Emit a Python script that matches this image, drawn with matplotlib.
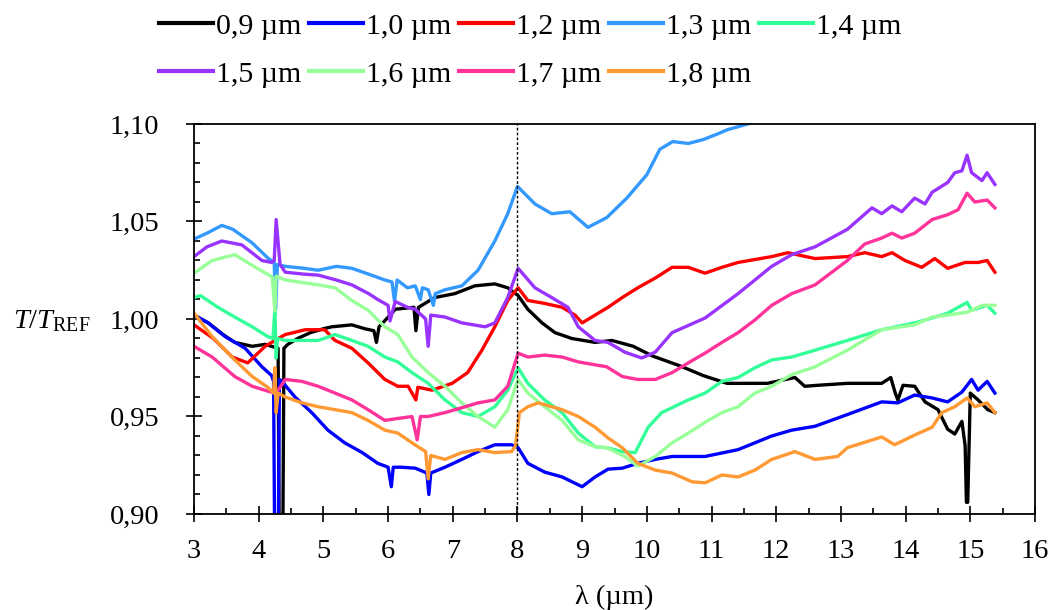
import numpy as np
import matplotlib.pyplot as plt
from matplotlib.ticker import MultipleLocator, FuncFormatter

plt.rcParams['font.family'] = ['Liberation Serif', 'DejaVu Serif']
plt.rcParams['mathtext.fontset'] = 'custom'
plt.rcParams['mathtext.rm'] = 'Liberation Serif'
plt.rcParams['mathtext.it'] = 'Liberation Serif:italic'

labels = ['0,9 µm', '1,0 µm', '1,2 µm', '1,3 µm', '1,4 µm',
          '1,5 µm', '1,6 µm', '1,7 µm', '1,8 µm']
colors = ['#000000', '#0000FF', '#FF0000', '#3399FF', '#33FF99',
          '#9933FF', '#99FF99', '#FF3399', '#FF9933']

# (wavelength in um, T/T_REF) for each film
s09 = [(3.0, 1.002), (3.22, 0.998), (3.45, 0.992), (3.63, 0.988), (3.9, 0.986), (4.1, 0.987),
       (4.3, 0.985), (4.32, 0.87), (4.37, 0.87), (4.39, 0.985), (4.45, 0.987), (4.6, 0.990),
       (4.8, 0.993), (5.0, 0.995), (5.13, 0.996), (5.44, 0.997), (5.64, 0.995), (5.78, 0.994),
       (5.82, 0.988), (5.86, 0.996), (6.06, 1.003), (6.11, 1.005), (6.4, 1.006), (6.43, 0.994),
       (6.47, 1.006), (6.72, 1.011), (7.03, 1.013), (7.34, 1.017), (7.65, 1.018), (7.85, 1.016),
       (8.01, 1.012), (8.16, 1.005), (8.38, 0.998), (8.58, 0.993), (8.84, 0.990), (9.2, 0.988),
       (9.46, 0.989), (9.79, 0.986), (10.09, 0.981), (10.51, 0.976), (10.87, 0.971), (11.24, 0.967),
       (11.86, 0.967), (12.29, 0.970), (12.44, 0.9655), (12.64, 0.966), (13.1, 0.967), (13.63, 0.967),
       (13.77, 0.970), (13.84, 0.962), (13.88, 0.9585), (13.96, 0.966), (14.14, 0.9655), (14.3, 0.9575),
       (14.5, 0.9535), (14.65, 0.9435), (14.76, 0.941), (14.87, 0.9475), (14.92, 0.935), (14.94, 0.906),
       (14.96, 0.906), (15.0, 0.962), (15.12, 0.9585), (15.27, 0.9535), (15.38, 0.952)]
s10 = [(3.0, 1.002), (3.22, 0.998), (3.48, 0.991), (3.79, 0.985), (4.05, 0.9755), (4.2, 0.971),
       (4.23, 0.968), (4.25, 0.87), (4.3, 0.87), (4.32, 0.969), (4.36, 0.968), (4.56, 0.960),
       (4.82, 0.952), (5.07, 0.943), (5.33, 0.9365), (5.6, 0.9315), (5.84, 0.926), (6.0, 0.924),
       (6.05, 0.914), (6.08, 0.924), (6.2, 0.924), (6.42, 0.9235), (6.6, 0.921), (6.63, 0.910),
       (6.66, 0.921), (6.88, 0.924), (7.14, 0.928), (7.39, 0.932), (7.65, 0.9355), (7.91, 0.9355),
       (8.01, 0.934), (8.16, 0.926), (8.42, 0.9215), (8.69, 0.919), (9.0, 0.914), (9.2, 0.919),
       (9.4, 0.923), (9.62, 0.9235), (9.86, 0.926), (10.13, 0.928), (10.39, 0.9295), (10.9, 0.9295),
       (11.41, 0.933), (11.93, 0.940), (12.24, 0.943), (12.6, 0.945), (13.1, 0.951), (13.63, 0.9575),
       (13.88, 0.957), (14.14, 0.961), (14.41, 0.9595), (14.65, 0.9575), (14.87, 0.9625), (15.02, 0.969),
       (15.12, 0.9635), (15.26, 0.968), (15.38, 0.962)]
s12 = [(3.0, 0.997), (3.3, 0.990), (3.59, 0.9805), (3.83, 0.9775), (4.1, 0.986), (4.3, 0.990),
       (4.41, 0.992), (4.72, 0.9945), (5.02, 0.9945), (5.18, 0.989), (5.44, 0.985), (5.69, 0.9775),
       (5.95, 0.969), (6.15, 0.9655), (6.31, 0.9655), (6.43, 0.9585), (6.46, 0.965), (6.68, 0.9635),
       (6.99, 0.967), (7.23, 0.9725), (7.45, 0.984), (7.65, 0.996), (7.85, 1.0095), (8.01, 1.016),
       (8.16, 1.0095), (8.42, 1.008), (8.69, 1.006), (8.89, 1.002), (9.0, 0.998), (9.2, 1.002),
       (9.4, 1.006), (9.62, 1.011), (9.86, 1.016), (10.13, 1.021), (10.39, 1.0265), (10.64, 1.0265),
       (10.9, 1.0235), (11.16, 1.0265), (11.41, 1.029), (11.93, 1.032), (12.18, 1.034), (12.6, 1.031),
       (13.1, 1.032), (13.37, 1.034), (13.63, 1.032), (13.79, 1.034), (13.99, 1.030), (14.25, 1.0265),
       (14.45, 1.031), (14.65, 1.026), (14.92, 1.029), (15.12, 1.029), (15.26, 1.030), (15.38, 1.024)]
s13 = [(3.0, 1.041), (3.2, 1.044), (3.43, 1.048), (3.6, 1.046), (3.9, 1.039), (4.15, 1.031),
       (4.24, 1.029), (4.26, 1.005), (4.29, 1.028), (4.41, 1.027), (4.7, 1.026), (4.92, 1.025),
       (5.2, 1.027), (5.44, 1.026), (5.7, 1.023), (5.95, 1.020), (6.06, 1.019), (6.1, 1.009),
       (6.14, 1.020), (6.3, 1.016), (6.42, 1.017), (6.5, 1.010), (6.53, 1.016), (6.62, 1.015),
       (6.7, 1.007), (6.73, 1.013), (6.88, 1.015), (7.14, 1.017), (7.39, 1.025), (7.65, 1.040),
       (7.85, 1.054), (8.0, 1.068), (8.27, 1.059), (8.53, 1.054), (8.81, 1.055), (9.09, 1.047),
       (9.38, 1.052), (9.69, 1.062), (10.0, 1.074), (10.2, 1.087), (10.4, 1.091), (10.64, 1.090),
       (10.87, 1.092), (11.1, 1.095), (11.24, 1.097), (11.56, 1.100), (11.75, 1.102)]
s14 = [(3.0, 1.011), (3.1, 1.012), (3.37, 1.006), (3.63, 1.001), (3.9, 0.996), (4.14, 0.991),
       (4.22, 0.990), (4.25, 1.005), (4.27, 0.980), (4.29, 0.990), (4.41, 0.989), (4.67, 0.989),
       (4.92, 0.989), (5.18, 0.992), (5.44, 0.989), (5.69, 0.986), (5.95, 0.9805), (6.15, 0.978),
       (6.37, 0.9725), (6.62, 0.967), (6.88, 0.9585), (7.14, 0.952), (7.39, 0.950), (7.65, 0.955),
       (7.85, 0.9635), (8.01, 0.975), (8.16, 0.967), (8.42, 0.9585), (8.69, 0.952), (8.94, 0.9415),
       (9.2, 0.9345), (9.38, 0.934), (9.62, 0.932), (9.82, 0.9315), (10.02, 0.9445), (10.23, 0.952),
       (10.64, 0.9585), (10.9, 0.962), (11.16, 0.968), (11.41, 0.970), (11.67, 0.975), (11.93, 0.979),
       (12.24, 0.9805), (12.6, 0.984), (13.1, 0.989), (13.63, 0.9945), (14.14, 0.998), (14.41, 1.0005),
       (14.65, 1.003), (14.95, 1.0085), (15.02, 1.0045), (15.26, 1.007), (15.38, 1.003)]
s15 = [(3.0, 1.032), (3.2, 1.037), (3.43, 1.040), (3.74, 1.038), (4.05, 1.030), (4.2, 1.029),
       (4.24, 1.030), (4.27, 1.051), (4.33, 1.028), (4.41, 1.024), (4.7, 1.023), (4.92, 1.0225),
       (5.2, 1.020), (5.44, 1.0175), (5.7, 1.013), (5.84, 1.010), (6.0, 1.007), (6.03, 0.999),
       (6.11, 1.009), (6.3, 1.006), (6.42, 1.005), (6.58, 1.000), (6.62, 0.986), (6.66, 1.002),
       (6.88, 1.001), (7.14, 0.998), (7.5, 0.996), (7.65, 0.998), (7.85, 1.011), (8.01, 1.026),
       (8.27, 1.016), (8.53, 1.011), (8.78, 1.006), (8.94, 0.996), (9.2, 0.989), (9.4, 0.988),
       (9.66, 0.983), (9.92, 0.980), (10.13, 0.983), (10.39, 0.993), (10.9, 1.0005), (11.41, 1.013),
       (11.93, 1.027), (12.24, 1.033), (12.6, 1.037), (13.1, 1.046), (13.48, 1.057), (13.63, 1.054),
       (13.79, 1.058), (13.94, 1.055), (14.14, 1.062), (14.3, 1.059), (14.41, 1.065), (14.65, 1.070),
       (14.76, 1.075), (14.87, 1.076), (14.95, 1.084), (15.02, 1.075), (15.18, 1.071), (15.26, 1.075),
       (15.38, 1.069)]
s16 = [(3.0, 1.0235), (3.28, 1.030), (3.63, 1.033), (3.9, 1.0275), (4.21, 1.0215), (4.25, 1.004),
       (4.27, 1.022), (4.41, 1.020), (4.92, 1.0175), (5.18, 1.016), (5.44, 1.0095), (5.69, 1.0045),
       (5.95, 0.996), (6.15, 0.992), (6.37, 0.9805), (6.62, 0.9725), (6.88, 0.9655), (7.14, 0.957),
       (7.39, 0.950), (7.65, 0.9445), (7.85, 0.9535), (8.01, 0.969), (8.16, 0.962), (8.42, 0.955),
       (8.69, 0.948), (8.94, 0.938), (9.2, 0.9345), (9.38, 0.934), (9.66, 0.9295), (9.86, 0.9245),
       (10.13, 0.9295), (10.39, 0.9365), (10.64, 0.9415), (10.9, 0.947), (11.16, 0.952), (11.41, 0.955),
       (11.67, 0.962), (11.93, 0.9655), (12.24, 0.9715), (12.6, 0.9755), (13.1, 0.984), (13.63, 0.9945),
       (14.14, 0.997), (14.41, 1.001), (14.65, 1.002), (14.95, 1.0035), (15.18, 1.007), (15.38, 1.007)]
s17 = [(3.0, 0.986), (3.28, 0.9805), (3.63, 0.9705), (3.9, 0.9655), (4.14, 0.963), (4.27, 0.962),
       (4.41, 0.969), (4.67, 0.968), (4.92, 0.9655), (5.18, 0.962), (5.44, 0.9585), (5.69, 0.9535),
       (5.95, 0.948), (6.15, 0.949), (6.37, 0.950), (6.45, 0.938), (6.5, 0.950), (6.62, 0.950),
       (6.88, 0.952), (7.14, 0.9545), (7.39, 0.957), (7.65, 0.9585), (7.85, 0.9655), (8.01, 0.9825),
       (8.16, 0.9805), (8.42, 0.9815), (8.69, 0.9805), (8.94, 0.978), (9.2, 0.9765), (9.38, 0.9755),
       (9.62, 0.9705), (9.86, 0.969), (10.13, 0.969), (10.39, 0.9725), (10.64, 0.9775), (10.9, 0.9825),
       (11.16, 0.988), (11.41, 0.993), (11.67, 0.9995), (11.93, 1.007), (12.24, 1.013), (12.6, 1.0175),
       (13.1, 1.030), (13.37, 1.0385), (13.63, 1.0415), (13.79, 1.044), (13.94, 1.0415), (14.14, 1.044),
       (14.41, 1.051), (14.65, 1.0535), (14.81, 1.056), (14.95, 1.0645), (15.07, 1.060), (15.26, 1.061),
       (15.38, 1.057)]
s18 = [(3.0, 1.003), (3.28, 0.991), (3.63, 0.979), (3.9, 0.9705), (4.14, 0.965), (4.23, 0.962),
       (4.25, 0.975), (4.27, 0.952), (4.3, 0.962), (4.41, 0.960), (4.67, 0.957), (4.92, 0.955),
       (5.18, 0.9535), (5.44, 0.952), (5.69, 0.948), (5.95, 0.943), (6.15, 0.9415), (6.37, 0.9365),
       (6.58, 0.932), (6.62, 0.918), (6.66, 0.930), (6.88, 0.928), (7.14, 0.9315), (7.39, 0.933),
       (7.65, 0.9315), (7.91, 0.932), (7.97, 0.935), (8.03, 0.952), (8.16, 0.955), (8.32, 0.957),
       (8.69, 0.9535), (8.94, 0.950), (9.2, 0.9445), (9.4, 0.939), (9.62, 0.934), (9.86, 0.926),
       (10.13, 0.9225), (10.39, 0.921), (10.7, 0.9165), (10.9, 0.916), (11.16, 0.920), (11.41, 0.919),
       (11.67, 0.9225), (11.93, 0.928), (12.29, 0.932), (12.6, 0.928), (12.95, 0.9295), (13.1, 0.934),
       (13.63, 0.9395), (13.83, 0.9355), (14.14, 0.9405), (14.41, 0.9445), (14.56, 0.952), (14.76, 0.955),
       (14.95, 0.9595), (15.07, 0.955), (15.26, 0.957), (15.38, 0.952)]

series = [s09, s10, s12, s13, s14, s15, s16, s17, s18]

fig = plt.figure(figsize=(10.52, 6.10), dpi=100)
ax = fig.add_axes([194 / 1052, 1 - 514 / 610, (1035 - 194) / 1052, (514 - 124) / 610])

lines = []
for pts, c, lab in zip(series, colors, labels):
    x, y = np.array(pts).T
    ln, = ax.plot(x, y, color=c, lw=2.4, label=lab, solid_joinstyle='round')
    lines.append(ln)

ax.axvline(8, color='black', ls=(0, (2, 1.5)), lw=1)

ax.set_xlim(3, 16)
ax.set_ylim(0.90, 1.10)
ax.xaxis.set_major_locator(MultipleLocator(1))
ax.xaxis.set_minor_locator(MultipleLocator(0.5))
ax.yaxis.set_major_locator(MultipleLocator(0.05))
ax.yaxis.set_minor_locator(MultipleLocator(0.01))
ax.yaxis.set_major_formatter(FuncFormatter(lambda v, p: f'{v:.2f}'.replace('.', ',')))
ax.tick_params(axis='x', which='major', direction='inout', length=12, width=1.2,
               labelsize=20.5, pad=12)
ax.tick_params(axis='y', which='major', direction='inout', length=11, width=1.2,
               labelsize=20.5, pad=19.5)
ax.tick_params(which='minor', direction='in', length=4.5, width=1.2)
for sp in ax.spines.values():
    sp.set_linewidth(1.3)

fig.text(52 / 1052, 1 - 321 / 610, r'$\mathit{T}/\mathit{T}_{\mathrm{REF}}$',
         ha='center', va='center', fontsize=20.5)
fig.text(614 / 1052, 1 - 597 / 610, 'λ (µm)', ha='center', va='center', fontsize=20.5)

# legend filled column by column, so interleave to read row by row
order = [0, 5, 1, 6, 2, 7, 3, 8, 4]
leg = fig.legend([lines[i] for i in order], [labels[i] for i in order],
                 loc='upper left', bbox_to_anchor=(159 / 1052, 1 - 13 / 610), ncol=5,
                 frameon=False, fontsize=21.5, handlelength=1.8, handletextpad=0.1,
                 columnspacing=0.27, labelspacing=0.7, borderpad=0, borderaxespad=0)
for h in leg.get_lines():
    h.set_linewidth(3)

fig.savefig('out.png', dpi=100)
